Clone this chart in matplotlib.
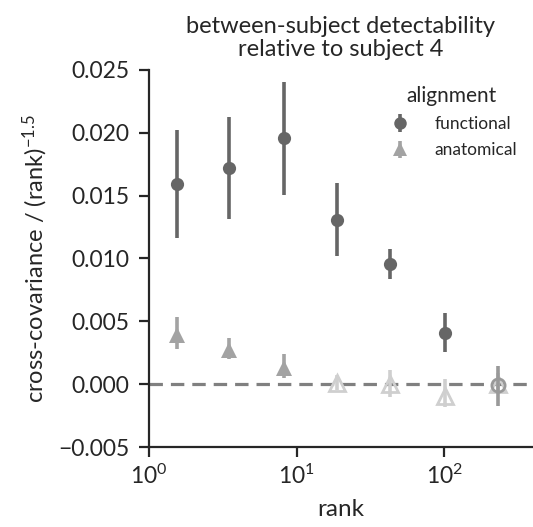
#!/usr/bin/env python3
# -*- coding: utf-8 -*-

import matplotlib
matplotlib.use("Agg")
import matplotlib.pyplot as plt
import numpy as np

plt.rcParams["font.family"] = ["Lato", "DejaVu Sans"]
plt.rcParams["mathtext.fontset"] = "custom"
plt.rcParams["mathtext.rm"] = "Lato"
plt.rcParams["mathtext.it"] = "Lato:italic"
plt.rcParams["mathtext.bf"] = "Lato:bold"

# Rank bins
rank = [1.55, 3.5, 8.2, 18.9, 43, 101, 232]

# Functional alignment: mean and CI bounds
func_mean = [0.0159, 0.0172, 0.01955, 0.01307, 0.00957, 0.00411, -0.00005]
func_lo = [0.01161, 0.01312, 0.01503, 0.0102, 0.00837, 0.00259, -0.00173]
func_hi = [0.0202, 0.02124, 0.02402, 0.01599, 0.01076, 0.00565, 0.00148]
func_sig = [True, True, True, True, True, True, False]

# Anatomical alignment: mean and CI bounds
anat_mean = [0.0039, 0.00273, 0.00127, 0.0001, 0.0, -0.00093, 0.00005]
anat_lo = [0.00278, 0.00198, 0.00048, -0.0005, -0.00099, -0.00185, -0.0007]
anat_hi = [0.00536, 0.00365, 0.00238, 0.0007, 0.00109, 0.00042, 0.0009]
anat_sig = [True, True, True, False, False, False, False]

FUNC_DARK, FUNC_LIGHT = "#666666", "#999999"
ANAT_DARK, ANAT_LIGHT = "#a3a3a3", "#cfcfcf"
TEXT = "#262626"

fig = plt.figure(figsize=(5.33, 5.27), dpi=100)
ax = fig.add_axes([0.2795, 0.1518, 0.7205, 0.7154])

ax.axhline(0, color="#808080", lw=2.3, ls=(0, (4.2, 2.5)), zorder=1)


def draw(x, m, lo, hi, sig, marker, ms, dark, light, z):
    for xi, mi, l, h, s in zip(x, m, lo, hi, sig):
        c = dark if s else light
        ax.errorbar([xi], [mi], yerr=[[mi - l], [h - mi]], fmt=marker,
                    color=c, ecolor=c, elinewidth=2.6, capsize=0, ms=ms,
                    mfc=c if s else "none", mec=c, mew=2 if not s else 0,
                    zorder=z)


draw(rank, anat_mean, anat_lo, anat_hi, anat_sig, "^", 11, ANAT_DARK,
     ANAT_LIGHT, 2)
draw(rank, func_mean, func_lo, func_hi, func_sig, "o", 9.5, FUNC_DARK,
     FUNC_LIGHT, 3)

# legend handles: errorbar glyphs with nothing to draw
h_func = ax.errorbar([np.nan], [np.nan], yerr=[[0], [0]], fmt="o",
                     color=FUNC_DARK, elinewidth=2.6, ms=9, mew=0)
h_anat = ax.errorbar([np.nan], [np.nan], yerr=[[0], [0]], fmt="^",
                     color=ANAT_DARK, elinewidth=2.6, ms=10, mew=0)

ax.set_xscale("log")
ax.set_xlim(1, 400)
ax.set_ylim(-0.005, 0.025)
ax.set_yticks([-0.005, 0, 0.005, 0.01, 0.015, 0.02, 0.025])
ax.set_yticklabels(["\u22120.005", "0.000", "0.005", "0.010", "0.015",
                    "0.020", "0.025"])
ax.minorticks_off()

for s in ["top", "right"]:
    ax.spines[s].set_visible(False)
for s in ["left", "bottom"]:
    ax.spines[s].set_linewidth(1.6)
    ax.spines[s].set_color(TEXT)
ax.tick_params(axis="both", length=7, width=1.6, color=TEXT,
               labelsize=16.5, labelcolor=TEXT, direction="out")
ax.tick_params(axis="y", pad=7)
ax.tick_params(axis="x", pad=5)

ax.set_xlabel("rank", fontsize=17.5, color=TEXT, labelpad=8)
ax.set_ylabel("cross-covariance / (rank)$^{-1.5}$", fontsize=17,
              color=TEXT, labelpad=6)
ax.set_title("between-subject detectability\nrelative to subject 4",
             fontsize=17, color=TEXT, pad=10, linespacing=1.1)

leg = ax.legend([h_func, h_anat], ["functional", "anatomical"],
                title="alignment", loc="upper right",
                bbox_to_anchor=(1.0, 1.0), frameon=False,
                fontsize=12.5, title_fontsize=15, handletextpad=1.2,
                labelspacing=0.6, handlelength=1.6)
leg.get_title().set_color(TEXT)
for t in leg.get_texts():
    t.set_color(TEXT)

fig.savefig("out.png", dpi=100)
